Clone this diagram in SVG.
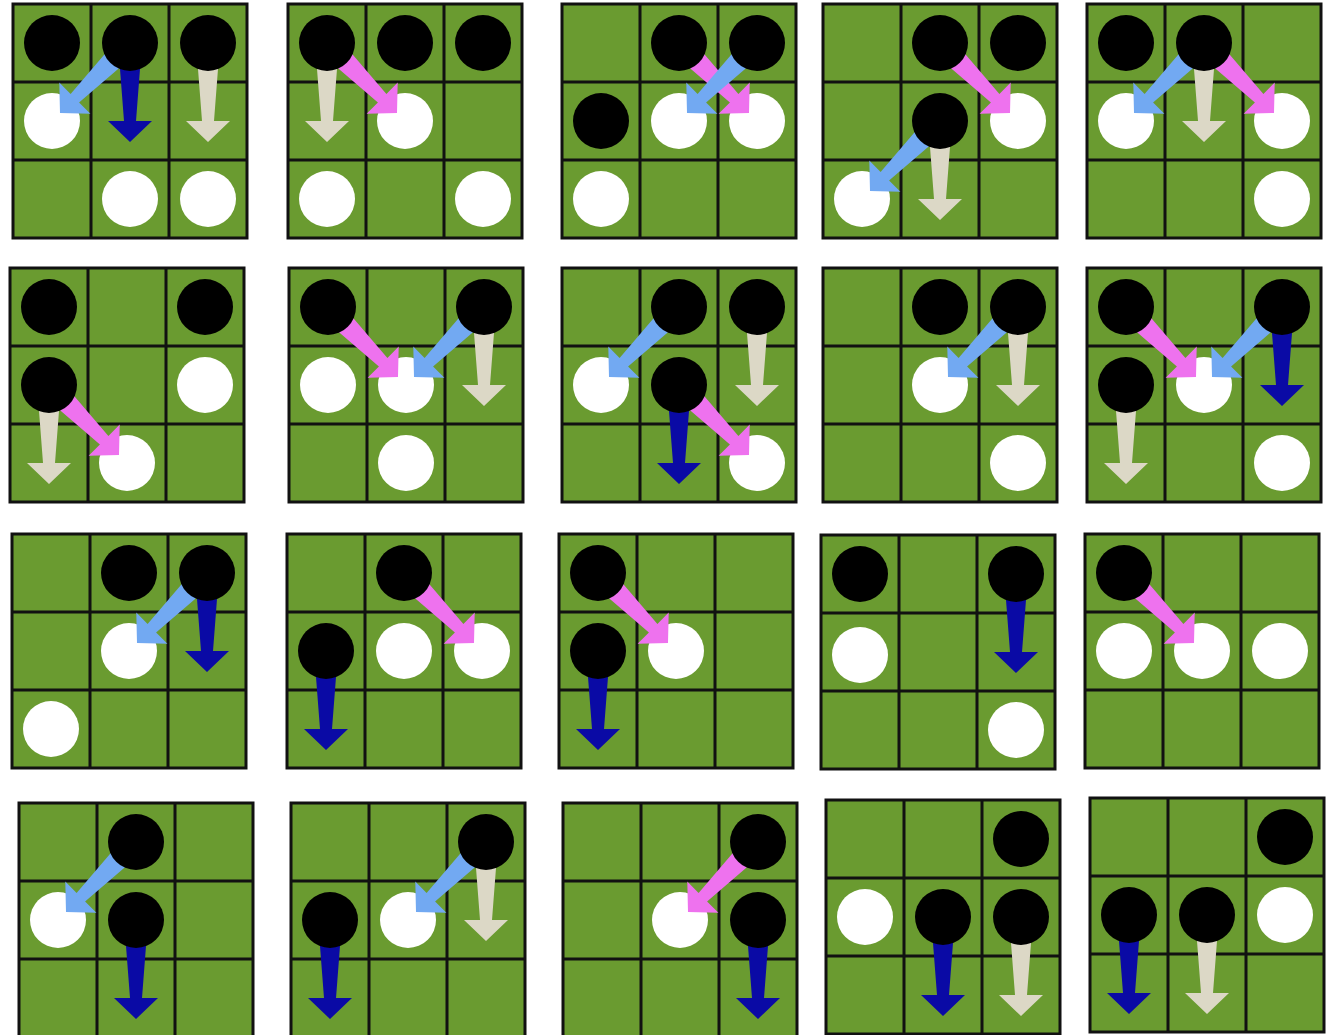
<svg xmlns="http://www.w3.org/2000/svg" width="1333" height="1035" viewBox="0 0 1333 1035">
<style>
.bd{fill:#6a9b30;stroke:#111;stroke-width:3}
.gl{stroke:#111;stroke-width:3;fill:none}
.w{fill:#fff}
.k{fill:#000}
.lb{fill:#72a9f2}
.pk{fill:#ee72ee}
.db{fill:#0a0aa5}
.bg{fill:#dcd8c6}
</style>
<defs>
<path id="arr" d="M0,-12 L78,-6 L78,-22 L99,0 L78,22 L78,6 L0,12 Z"/>
<g id="board"><rect class="bd" x="0" y="0" width="234" height="234"/><path class="gl" d="M78,0V234M156,0V234M0,78H234M0,156H234"/></g>
</defs>
<rect width="1333" height="1035" fill="#fff"/>

<g id="b1" transform="translate(13,4)"><use href="#board"/>
<circle class="w" cx="39" cy="117" r="28"/><circle class="w" cx="117" cy="195" r="28"/><circle class="w" cx="195" cy="195" r="28"/>
<g class="connectors"><use href="#arr" class="lb" transform="translate(117,39) rotate(135)"/><use href="#arr" class="db" transform="translate(117,39) rotate(90)"/><use href="#arr" class="bg" transform="translate(195,39) rotate(90)"/></g>
<circle class="k" cx="39" cy="39" r="28"/><circle class="k" cx="117" cy="39" r="28"/><circle class="k" cx="195" cy="39" r="28"/></g>

<g id="b2" transform="translate(288,4)"><use href="#board"/>
<circle class="w" cx="117" cy="117" r="28"/><circle class="w" cx="39" cy="195" r="28"/><circle class="w" cx="195" cy="195" r="28"/>
<g class="connectors"><use href="#arr" class="bg" transform="translate(39,39) rotate(90)"/><use href="#arr" class="pk" transform="translate(39,39) rotate(45)"/></g>
<circle class="k" cx="39" cy="39" r="28"/><circle class="k" cx="117" cy="39" r="28"/><circle class="k" cx="195" cy="39" r="28"/></g>

<g id="b3" transform="translate(562,4)"><use href="#board"/>
<circle class="w" cx="117" cy="117" r="28"/><circle class="w" cx="195" cy="117" r="28"/><circle class="w" cx="39" cy="195" r="28"/>
<g class="connectors"><use href="#arr" class="pk" transform="translate(117,39) rotate(45)"/><use href="#arr" class="lb" transform="translate(195,39) rotate(135)"/></g>
<circle class="k" cx="117" cy="39" r="28"/><circle class="k" cx="195" cy="39" r="28"/><circle class="k" cx="39" cy="117" r="28"/></g>

<g id="b4" transform="translate(823,4)"><use href="#board"/>
<circle class="w" cx="195" cy="117" r="28"/><circle class="w" cx="39" cy="195" r="28"/>
<g class="connectors"><use href="#arr" class="pk" transform="translate(117,39) rotate(45)"/><use href="#arr" class="lb" transform="translate(117,117) rotate(135)"/><use href="#arr" class="bg" transform="translate(117,117) rotate(90)"/></g>
<circle class="k" cx="117" cy="39" r="28"/><circle class="k" cx="195" cy="39" r="28"/><circle class="k" cx="117" cy="117" r="28"/></g>

<g id="b5" transform="translate(1087,4)"><use href="#board"/>
<circle class="w" cx="39" cy="117" r="28"/><circle class="w" cx="195" cy="117" r="28"/><circle class="w" cx="195" cy="195" r="28"/>
<g class="connectors"><use href="#arr" class="lb" transform="translate(117,39) rotate(135)"/><use href="#arr" class="bg" transform="translate(117,39) rotate(90)"/><use href="#arr" class="pk" transform="translate(117,39) rotate(45)"/></g>
<circle class="k" cx="39" cy="39" r="28"/><circle class="k" cx="117" cy="39" r="28"/></g>

<g id="b6" transform="translate(10,268)"><use href="#board"/>
<circle class="w" cx="195" cy="117" r="28"/><circle class="w" cx="117" cy="195" r="28"/>
<g class="connectors"><use href="#arr" class="bg" transform="translate(39,117) rotate(90)"/><use href="#arr" class="pk" transform="translate(39,117) rotate(45)"/></g>
<circle class="k" cx="39" cy="39" r="28"/><circle class="k" cx="195" cy="39" r="28"/><circle class="k" cx="39" cy="117" r="28"/></g>

<g id="b7" transform="translate(289,268)"><use href="#board"/>
<circle class="w" cx="39" cy="117" r="28"/><circle class="w" cx="117" cy="117" r="28"/><circle class="w" cx="117" cy="195" r="28"/>
<g class="connectors"><use href="#arr" class="pk" transform="translate(39,39) rotate(45)"/><use href="#arr" class="lb" transform="translate(195,39) rotate(135)"/><use href="#arr" class="bg" transform="translate(195,39) rotate(90)"/></g>
<circle class="k" cx="39" cy="39" r="28"/><circle class="k" cx="195" cy="39" r="28"/></g>

<g id="b8" transform="translate(562,268)"><use href="#board"/>
<circle class="w" cx="39" cy="117" r="28"/><circle class="w" cx="195" cy="195" r="28"/>
<g class="connectors"><use href="#arr" class="lb" transform="translate(117,39) rotate(135)"/><use href="#arr" class="bg" transform="translate(195,39) rotate(90)"/><use href="#arr" class="db" transform="translate(117,117) rotate(90)"/><use href="#arr" class="pk" transform="translate(117,117) rotate(45)"/></g>
<circle class="k" cx="117" cy="39" r="28"/><circle class="k" cx="195" cy="39" r="28"/><circle class="k" cx="117" cy="117" r="28"/></g>

<g id="b9" transform="translate(823,268)"><use href="#board"/>
<circle class="w" cx="117" cy="117" r="28"/><circle class="w" cx="195" cy="195" r="28"/>
<g class="connectors"><use href="#arr" class="lb" transform="translate(195,39) rotate(135)"/><use href="#arr" class="bg" transform="translate(195,39) rotate(90)"/></g>
<circle class="k" cx="117" cy="39" r="28"/><circle class="k" cx="195" cy="39" r="28"/></g>

<g id="b10" transform="translate(1087,268)"><use href="#board"/>
<circle class="w" cx="117" cy="117" r="28"/><circle class="w" cx="195" cy="195" r="28"/>
<g class="connectors"><use href="#arr" class="pk" transform="translate(39,39) rotate(45)"/><use href="#arr" class="lb" transform="translate(195,39) rotate(135)"/><use href="#arr" class="db" transform="translate(195,39) rotate(90)"/><use href="#arr" class="bg" transform="translate(39,117) rotate(90)"/></g>
<circle class="k" cx="39" cy="39" r="28"/><circle class="k" cx="195" cy="39" r="28"/><circle class="k" cx="39" cy="117" r="28"/></g>

<g id="b11" transform="translate(12,534)"><use href="#board"/>
<circle class="w" cx="117" cy="117" r="28"/><circle class="w" cx="39" cy="195" r="28"/>
<g class="connectors"><use href="#arr" class="lb" transform="translate(195,39) rotate(135)"/><use href="#arr" class="db" transform="translate(195,39) rotate(90)"/></g>
<circle class="k" cx="117" cy="39" r="28"/><circle class="k" cx="195" cy="39" r="28"/></g>

<g id="b12" transform="translate(287,534)"><use href="#board"/>
<circle class="w" cx="117" cy="117" r="28"/><circle class="w" cx="195" cy="117" r="28"/>
<g class="connectors"><use href="#arr" class="pk" transform="translate(117,39) rotate(45)"/><use href="#arr" class="db" transform="translate(39,117) rotate(90)"/></g>
<circle class="k" cx="117" cy="39" r="28"/><circle class="k" cx="39" cy="117" r="28"/></g>

<g id="b13" transform="translate(559,534)"><use href="#board"/>
<circle class="w" cx="117" cy="117" r="28"/>
<g class="connectors"><use href="#arr" class="pk" transform="translate(39,39) rotate(45)"/><use href="#arr" class="db" transform="translate(39,117) rotate(90)"/></g>
<circle class="k" cx="39" cy="39" r="28"/><circle class="k" cx="39" cy="117" r="28"/></g>

<g id="b14" transform="translate(821,535)"><use href="#board"/>
<circle class="w" cx="39" cy="120" r="28"/><circle class="w" cx="195" cy="195" r="28"/>
<g class="connectors"><use href="#arr" class="db" transform="translate(195,39) rotate(90)"/></g>
<circle class="k" cx="39" cy="39" r="28"/><circle class="k" cx="195" cy="39" r="28"/></g>

<g id="b15" transform="translate(1085,534)"><use href="#board"/>
<circle class="w" cx="39" cy="117" r="28"/><circle class="w" cx="117" cy="117" r="28"/><circle class="w" cx="195" cy="117" r="28"/>
<g class="connectors"><use href="#arr" class="pk" transform="translate(39,39) rotate(45)"/></g>
<circle class="k" cx="39" cy="39" r="28"/></g>

<g id="b16" transform="translate(19,803)"><use href="#board"/>
<circle class="w" cx="39" cy="117" r="28"/>
<g class="connectors"><use href="#arr" class="lb" transform="translate(117,39) rotate(135)"/><use href="#arr" class="db" transform="translate(117,117) rotate(90)"/></g>
<circle class="k" cx="117" cy="39" r="28"/><circle class="k" cx="117" cy="117" r="28"/></g>

<g id="b17" transform="translate(291,803)"><use href="#board"/>
<circle class="w" cx="117" cy="117" r="28"/>
<g class="connectors"><use href="#arr" class="lb" transform="translate(195,39) rotate(135)"/><use href="#arr" class="bg" transform="translate(195,39) rotate(90)"/><use href="#arr" class="db" transform="translate(39,117) rotate(90)"/></g>
<circle class="k" cx="195" cy="39" r="28"/><circle class="k" cx="39" cy="117" r="28"/></g>

<g id="b18" transform="translate(563,803)"><use href="#board"/>
<circle class="w" cx="117" cy="117" r="28"/>
<g class="connectors"><use href="#arr" class="pk" transform="translate(195,39) rotate(135)"/><use href="#arr" class="db" transform="translate(195,117) rotate(90)"/></g>
<circle class="k" cx="195" cy="39" r="28"/><circle class="k" cx="195" cy="117" r="28"/></g>

<g id="b19" transform="translate(826,800)"><use href="#board"/>
<circle class="w" cx="39" cy="117" r="28"/>
<g class="connectors"><use href="#arr" class="db" transform="translate(117,117) rotate(90)"/><use href="#arr" class="bg" transform="translate(195,117) rotate(90)"/></g>
<circle class="k" cx="195" cy="39" r="28"/><circle class="k" cx="117" cy="117" r="28"/><circle class="k" cx="195" cy="117" r="28"/></g>

<g id="b20" transform="translate(1090,798)"><use href="#board"/>
<circle class="w" cx="195" cy="117" r="28"/>
<g class="connectors"><use href="#arr" class="db" transform="translate(39,117) rotate(90)"/><use href="#arr" class="bg" transform="translate(117,117) rotate(90)"/></g>
<circle class="k" cx="195" cy="39" r="28"/><circle class="k" cx="39" cy="117" r="28"/><circle class="k" cx="117" cy="117" r="28"/></g>
</svg>
